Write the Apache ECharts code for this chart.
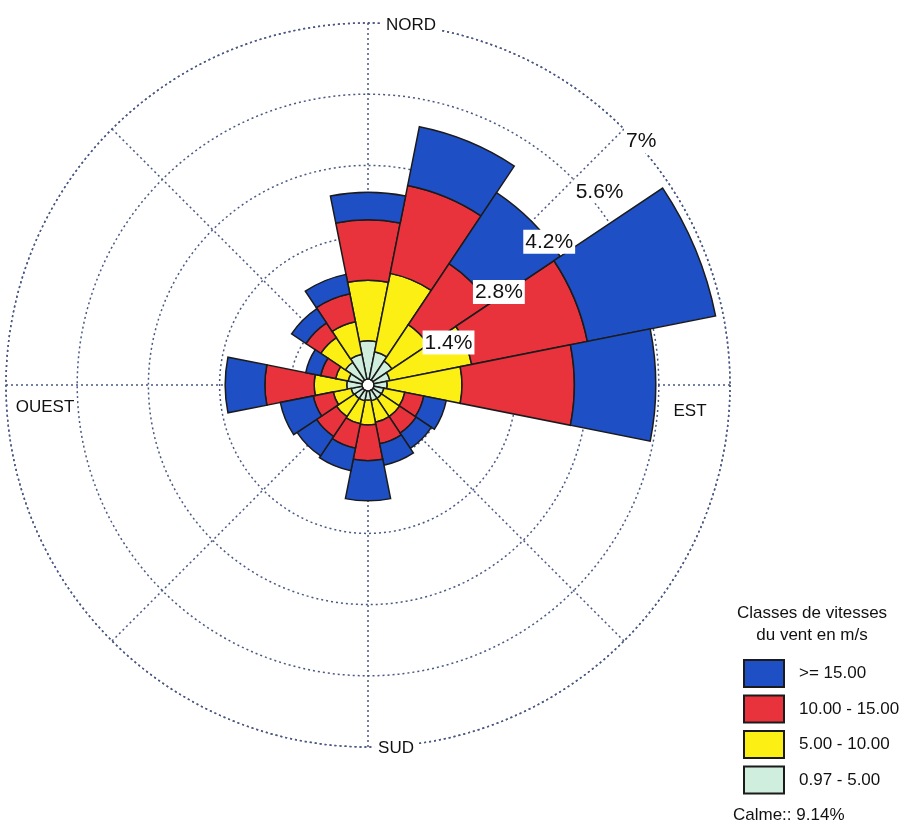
<!DOCTYPE html>
<html>
<head>
<meta charset="utf-8">
<title>Rose des vents</title>
<script src="https://cdn.jsdelivr.net/npm/echarts@6/dist/echarts.min.js"></script>
<style>
  html, body { margin: 0; padding: 0; background: #fff; }
  #rose { width: 916px; height: 836px; }
</style>
</head>
<body>
<div id="rose"></div>
<script>
// 16 secteurs, dans le sens horaire depuis le nord
const directions = ['N', 'NNE', 'NE', 'ENE', 'E', 'ESE', 'SE', 'SSE', 'S', 'SSW', 'SW', 'WSW', 'W', 'WNW', 'NW', 'NNW'];

// fréquences (%) par classe de vitesse
const speed097to5 = [0.75, 0.55, 0.45, 0.32, 0.26, 0.20, 0.20, 0.20, 0.18, 0.20, 0.20, 0.22, 0.30, 0.28, 0.42, 0.50];
const speed5to10 = [1.19, 1.57, 0.86, 1.64, 1.47, 0.42, 0.43, 0.43, 0.49, 0.46, 0.43, 0.36, 0.64, 0.25, 0.58, 0.65];
const speed10to15 = [1.19, 1.76, 1.44, 2.32, 2.21, 0.38, 0.39, 0.43, 0.70, 0.49, 0.47, 0.40, 0.97, 0.30, 0.35, 0.56];
const speed15plus = [0.54, 1.18, 1.68, 2.57, 1.60, 0.45, 0.36, 0.43, 0.79, 0.45, 0.46, 0.66, 0.78, 0.30, 0.34, 0.39];

const classNames = ['0.97 - 5.00', '5.00 - 10.00', '10.00 - 15.00', '>= 15.00'];
const ringStep = 1.4;
const ringMax = 7;
const calmText = 'Calme:: 9.14%';

const colors = ['#cfeedd', '#fbef14', '#e8323c', '#1f4fc4'];
const gridColor = '#4a5884';
const textColor = '#111';
const font = '"Liberation Sans", Arial, sans-serif';

const cx = 368, cy = 385, R = 362, hole = 6;

const chart = echarts.init(document.getElementById('rose'));

const barSeries = [speed097to5, speed5to10, speed10to15, speed15plus].map((values, i) => ({
  name: classNames[i],
  type: 'bar',
  coordinateSystem: 'polar',
  polarIndex: 0,
  stack: 'rose',
  data: values,
  barCategoryGap: '0%',
  z: 5,
  itemStyle: {
    color: colors[i],
    borderColor: '#1b1b1b',
    borderWidth: 1.5,
  },
}));

const dotted = { color: gridColor, width: 1.5, type: [2, 3] };

const option = {
  animation: false,
  textStyle: { fontFamily: font },
  polar: [
    { center: [cx, cy], radius: [hole, R] },
    { center: [cx, cy], radius: [hole, R] },
    { center: [cx, cy], radius: [hole, R] },
  ],
  angleAxis: [
    {
      // secteurs des barres, le nord centré en haut
      polarIndex: 0,
      type: 'category',
      data: directions,
      startAngle: 90 + 360 / directions.length / 2,
      clockwise: true,
      show: false,
    },
    {
      // grille : rayons tous les 45°
      polarIndex: 1,
      type: 'value',
      min: 0,
      max: 360,
      interval: 45,
      startAngle: 45,
      clockwise: true,
      axisLine: { show: true, lineStyle: dotted },
      axisTick: { show: false },
      axisLabel: { show: false },
      splitLine: { show: true, lineStyle: dotted },
    },
    {
      polarIndex: 2,
      type: 'value',
      min: 0,
      max: 360,
      startAngle: 45,
      clockwise: true,
      show: false,
    },
  ],
  radiusAxis: [
    { polarIndex: 0, type: 'value', min: 0, max: ringMax, show: false },
    {
      polarIndex: 1,
      type: 'value',
      min: 0,
      max: ringMax,
      interval: ringStep,
      axisLine: { show: false },
      axisTick: { show: false },
      axisLabel: { show: false },
      splitLine: { show: true, lineStyle: dotted },
    },
    {
      // étiquettes des cercles, au-dessus des barres
      polarIndex: 2,
      type: 'value',
      min: 0,
      max: ringMax,
      interval: ringStep,
      z: 20,
      axisLine: { show: false },
      axisTick: { show: false },
      splitLine: { show: false },
      axisLabel: {
        show: true,
        showMinLabel: false,
        margin: 0,
        align: 'left',
        verticalAlign: 'top',
        fontSize: 21,
        color: textColor,
        backgroundColor: '#fff',
        padding: [2, 2, 1, 2],
        formatter: v => (Math.round(v * 10) / 10) + '%',
      },
    },
  ],
  legend: {
    orient: 'vertical',
    left: 738,
    top: 654,
    itemWidth: 40,
    itemHeight: 27,
    itemGap: 6.5,
    icon: 'rect',
    data: classNames.slice().reverse(),
    selectedMode: false,
    textStyle: { fontSize: 17, color: textColor, padding: [0, 0, 0, 10] },
  },
  graphic: [
    { type: 'text', x: cx + 43, y: cy - R + 2, z: 30, style: { text: 'NORD', font: '17px ' + font, fill: textColor, align: 'center', verticalAlign: 'middle', backgroundColor: '#fff', padding: [2, 4] } },
    { type: 'text', x: cx + R - 40, y: cy + 26, z: 30, style: { text: 'EST', font: '17px ' + font, fill: textColor, align: 'center', verticalAlign: 'middle', backgroundColor: '#fff', padding: [2, 4] } },
    { type: 'text', x: cx + 28, y: cy + R + 1, z: 30, style: { text: 'SUD', font: '17px ' + font, fill: textColor, align: 'center', verticalAlign: 'middle', backgroundColor: '#fff', padding: [2, 4] } },
    { type: 'text', x: cx - R + 39, y: cy + 22, z: 30, style: { text: 'OUEST', font: '17px ' + font, fill: textColor, align: 'center', verticalAlign: 'middle', backgroundColor: '#fff', padding: [2, 2] } },
    { type: 'text', x: 812, y: 613, style: { text: 'Classes de vitesses', font: '17px ' + font, fill: textColor, align: 'center', verticalAlign: 'middle' } },
    { type: 'text', x: 812, y: 635, style: { text: 'du vent en m/s', font: '17px ' + font, fill: textColor, align: 'center', verticalAlign: 'middle' } },
    { type: 'text', x: 733, y: 815, style: { text: calmText, font: '17px ' + font, fill: textColor, align: 'left', verticalAlign: 'middle' } },
  ],
  series: barSeries,
};

chart.setOption(option);
</script>
</body>
</html>
